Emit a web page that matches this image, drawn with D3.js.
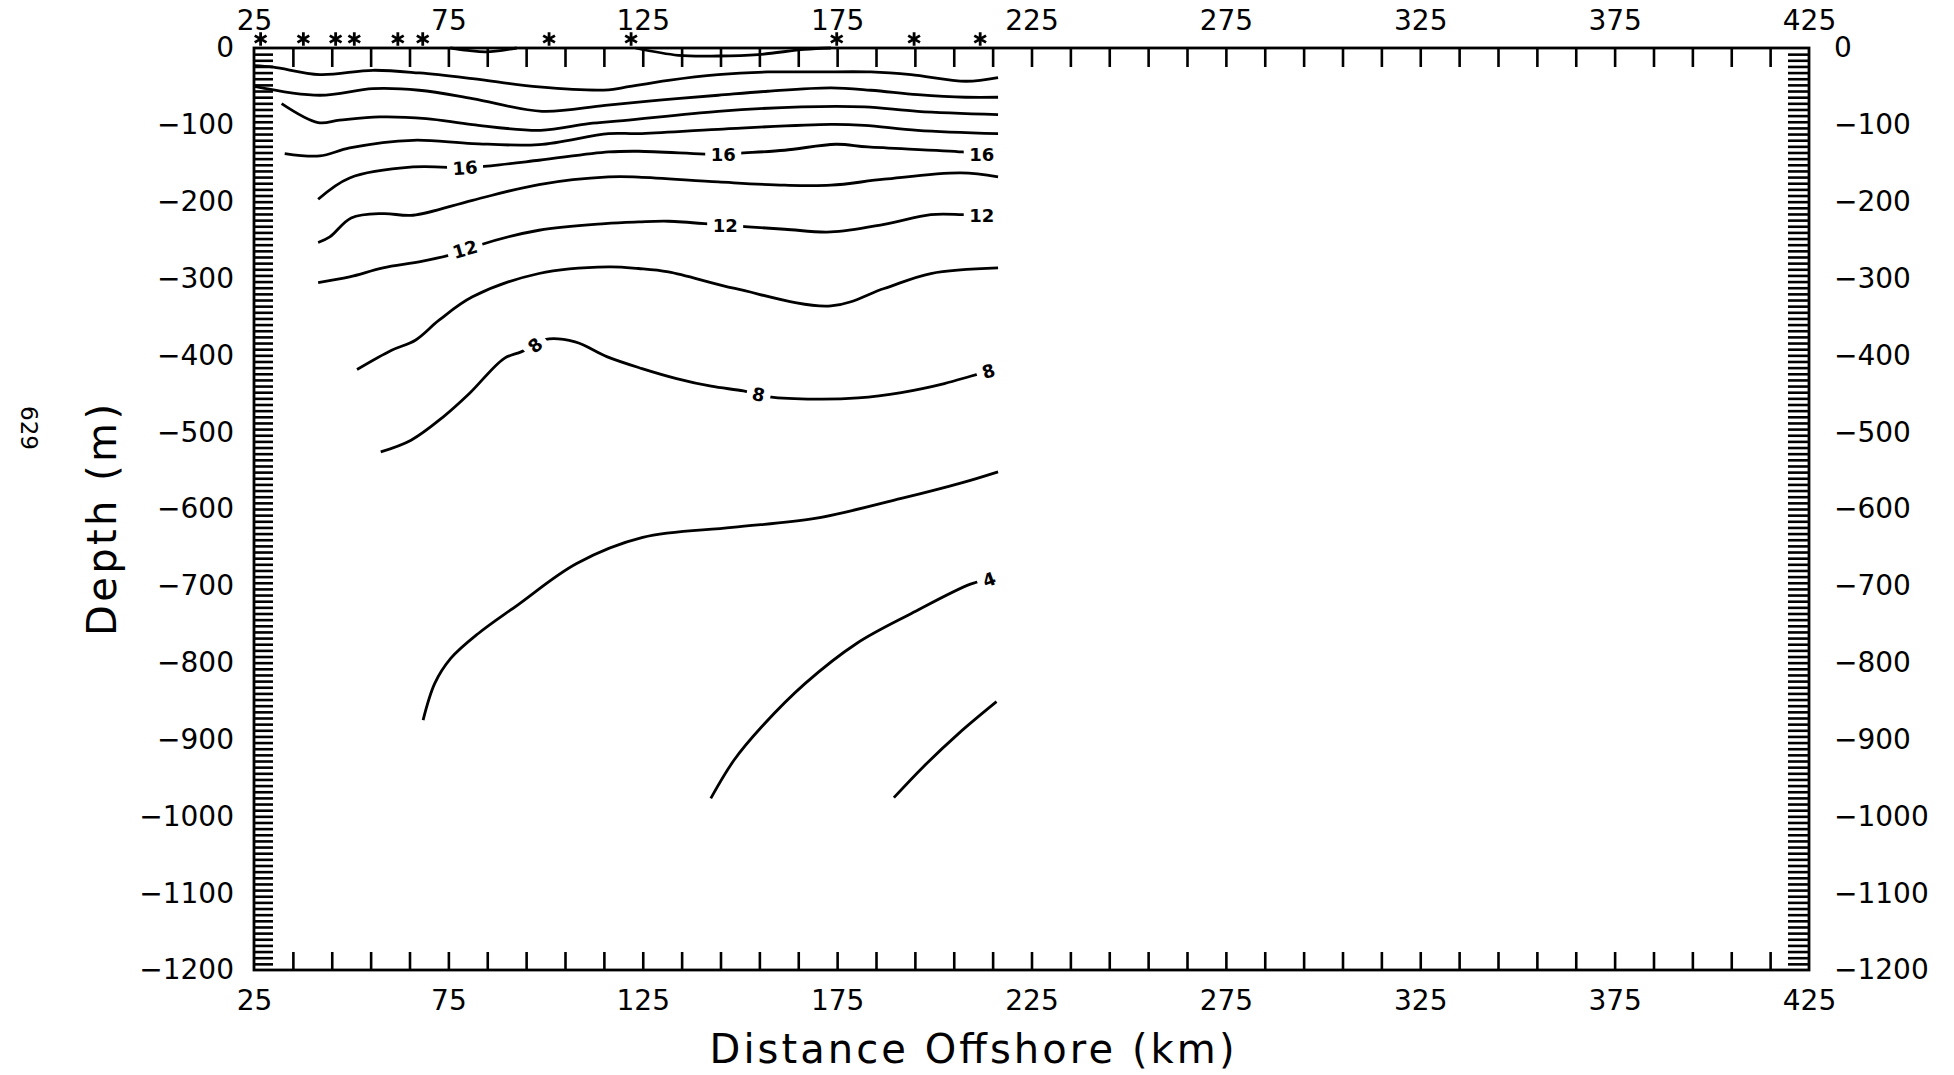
<!DOCTYPE html>
<html>
<head>
<meta charset="utf-8">
<script src="https://cdn.jsdelivr.net/npm/d3@7"></script>
<style>
  body { margin: 0; background: #fff; }
  svg { display: block; }
  text { font-family: "DejaVu Sans", sans-serif; fill: #000; }
</style>
</head>
<body>
<div id="chart"></div>
<script>
// --- data (distance km, depth m) ---
const xLabels = [25, 75, 125, 175, 225, 275, 325, 375, 425];
const depthLabels = [0, -100, -200, -300, -400, -500, -600, -700, -800, -900, -1000, -1100, -1200];
const stations = [26.7, 37.7, 46.0, 50.8, 62.0, 68.4, 100.9, 122.0, 174.9, 194.8, 211.8];

const surf1 = [[75.5, 0], [80, 3], [84.7, 5], [92.6, 0]];
const surf2 = [[123.1, 0], [134.2, 9.5], [144.4, 10.4], [154.7, 8.6], [166.6, 1.7], [173.4, 0]];
const iso1 = [[25, 23], [30, 25], [41.9, 34.7], [55.6, 29], [67.5, 32.5], [81.2, 39.9], [98.3, 50.7], [116.2, 54.5], [120, 51.5], [131.6, 42], [144.4, 34.6], [157.2, 31.2], [170, 31.2], [183.7, 31.2], [194, 34.7], [208.1, 43.3], [216.4, 38.5]];
const iso2 = [[25, 49.8], [41.9, 61.5], [55.6, 52.9], [67.5, 55], [81.2, 65.9], [99.1, 82.4], [115.3, 74.6], [130, 67.5], [144.4, 61.5], [157.2, 56.3], [173.4, 52], [183.7, 55], [195.7, 60.7], [208.1, 64.1], [216.4, 64.1]];
const iso3 = [[32.1, 72.4], [41.5, 97.1], [47, 94], [57.3, 89.7], [69.3, 91.9], [81.2, 99.7], [98.7, 107.1], [111.1, 98.4], [120, 94.5], [144.4, 82.4], [165.8, 76.7], [182, 76.7], [195.7, 82.4], [216.4, 86.7]];
const iso4 = [[32.9, 137.4], [41.9, 140.5], [49.6, 130], [65.9, 120.1], [81.2, 124.4], [98.3, 125.7], [116.2, 111.4], [123.9, 111.4], [144.4, 105.8], [173.4, 99.3], [182, 100.6], [195.7, 107.1], [216.4, 111.4]];
const iso5 = [[41.5, 196.9], [49.6, 169.1], [65.9, 154.8], [79.3, 156], [82.9, 154.8], [98.3, 146.1], [116.2, 135.3], [123.9, 134.4], [145.5, 138.5], [149.6, 137], [161.5, 133.1], [174.7, 125.3], [182.9, 128.8], [207.2, 135.3], [212.2, 138.7]];
const iso6 = [[41.5, 253.2], [44.5, 245.9], [50, 221.2], [58.2, 215.5], [65.9, 217.7], [81.2, 198.2], [98.3, 177.7], [116.2, 167.8], [123.9, 168], [144.4, 174.3], [161.5, 178.6], [173.4, 178.6], [187.1, 170.8], [206.8, 162.6], [216.4, 167.8]];
const iso7 = [[41.5, 305.3], [49.6, 297.9], [58.2, 286.2], [68.4, 277.5], [79.3, 264], [82.9, 256.7], [98.3, 237.2], [115.3, 228.5], [123.9, 226.4], [131.6, 225.5], [146.2, 230.7], [161.5, 235.9], [173.4, 239.4], [187.1, 229.4], [199.1, 216.8], [207.2, 216.8], [212.2, 217.7]];
const iso8 = [[51.5, 418.5], [60.4, 393.4], [66.5, 380.3], [72.6, 354.3], [81.2, 323.9], [98.3, 293.5], [116.2, 284.9], [123.9, 287], [131.6, 291.4], [148.7, 313], [173.4, 335.7], [187.1, 313], [199.1, 293.5], [216.4, 286.2]];
const iso9 = [[57.6, 525.6], [65.4, 510.4], [73.7, 480], [80.4, 449.7], [89.3, 404.2], [93.7, 395.5], [97.3, 386.8], [99.8, 379.5], [107.6, 382.5], [115.9, 402], [124.8, 417.2], [133.7, 430.2], [142.6, 440.2], [150.9, 446.3], [154.8, 451], [157.6, 454], [169.3, 457], [180.4, 455.4], [191.5, 448.4], [202.6, 436.7], [209.3, 427.2], [213.9, 420.7]];
const iso10 = [[68.5, 874.7], [71.5, 827], [75.6, 794.5], [82.7, 762], [92.8, 725], [108, 670.9], [125, 637], [148, 624], [169.3, 612.3], [191.5, 586.3], [207, 566], [216.4, 551.6]];
const iso11 = [[142.5, 976.6], [148.5, 926.7], [155.6, 883.4], [166.8, 827], [180, 775], [194.1, 736], [209.3, 697.8], [214.1, 691.7]];
const iso12 = [[189.6, 975.7], [197.2, 935.4], [206.3, 892], [216, 850.8]];

// contour labels: [km, depth, text, angle]
const isoLabels = [
  [79.3, 156, "16", -4], [145.7, 138.7, "16", 0], [212.2, 138.7, "16", 0],
  [79.3, 262, "12", -16], [146.2, 230.7, "12", 0], [212.2, 217.7, "12", 0],
  [97.3, 386.8, "8", -40], [154.8, 451, "8", 12], [213.9, 420.7, "8", -18],
  [214.1, 691.7, "4", -20]
];

const lines = [surf1, surf2, iso1, iso2, iso3, iso4, iso5, iso6, iso7, iso8, iso9, iso10, iso11, iso12];

const W = 1954, H = 1075;
const plotL = 254, plotR = 1809, plotT = 48, plotB = 970;

const svg = d3.select("#chart").append("svg")
  .attr("width", W)
  .attr("height", H);

const x = d3.scaleLinear().domain([25, 425]).range([plotL, plotR]);
const y = d3.scaleLinear().domain([0, -1200]).range([plotT, plotB]);

// contours
const line = d3.line()
  .x(d => x(d[0]))
  .y(d => y(-d[1]))
  .curve(d3.curveCatmullRom.alpha(0.5));

svg.append("g")
  .selectAll("path")
  .data(lines)
  .join("path")
  .attr("d", line)
  .attr("fill", "none")
  .attr("stroke", "#000")
  .attr("stroke-width", 2.8)
  .attr("stroke-linejoin", "round");

// labels on the contours, with a white patch to break the line
const lab = svg.append("g")
  .selectAll("g")
  .data(isoLabels)
  .join("g")
  .attr("transform", d => `translate(${x(d[0])},${y(-d[1])}) rotate(${d[3]})`);

lab.append("rect")
  .attr("x", d => -d[2].length * 6 - 6)
  .attr("y", -10)
  .attr("width", d => d[2].length * 12 + 12)
  .attr("height", 20)
  .attr("fill", "#fff");

lab.append("text")
  .attr("text-anchor", "middle")
  .attr("dy", "0.36em")
  .attr("font-size", 18)
  .attr("font-weight", "bold")
  .text(d => d[2]);

// minor ticks, all pointing inwards
const tickStyle = g => {
  g.select(".domain").remove();
  g.selectAll(".tick line").attr("stroke", "#000").attr("stroke-width", 2.6);
};

svg.append("g")
  .attr("transform", `translate(0,${plotT})`)
  .call(d3.axisBottom(x).tickValues(d3.range(35, 425, 10)).tickSize(19).tickFormat(""))
  .call(tickStyle);

svg.append("g")
  .attr("transform", `translate(0,${plotB})`)
  .call(d3.axisTop(x).tickValues(d3.range(35, 425, 10)).tickSize(18).tickFormat(""))
  .call(tickStyle);

svg.append("g")
  .attr("transform", `translate(${plotL},0)`)
  .call(d3.axisRight(y).tickValues(d3.range(-8, -1200, -8)).tickSize(19).tickFormat(""))
  .call(tickStyle);

svg.append("g")
  .attr("transform", `translate(${plotR},0)`)
  .call(d3.axisLeft(y).tickValues(d3.range(-8, -1200, -8)).tickSize(21).tickFormat(""))
  .call(tickStyle);

// frame
svg.append("rect")
  .attr("x", plotL)
  .attr("y", plotT)
  .attr("width", plotR - plotL)
  .attr("height", plotB - plotT)
  .attr("fill", "none")
  .attr("stroke", "#000")
  .attr("stroke-width", 2.8);

// tick labels
const fmt = d3.format("d");
const labelStyle = g => {
  g.select(".domain").remove();
  g.selectAll(".tick line").remove();
  g.selectAll("text").attr("font-size", 28).attr("font-family", "DejaVu Sans, sans-serif").attr("fill", "#000");
};

svg.append("g")
  .attr("transform", `translate(0,${plotT})`)
  .call(d3.axisTop(x).tickValues(xLabels).tickFormat(fmt).tickSize(0).tickPadding(18))
  .call(labelStyle);

svg.append("g")
  .attr("transform", `translate(0,${plotB})`)
  .call(d3.axisBottom(x).tickValues(xLabels).tickFormat(fmt).tickSize(0).tickPadding(20))
  .call(labelStyle);

svg.append("g")
  .attr("transform", `translate(${plotL},0)`)
  .call(d3.axisLeft(y).tickValues(depthLabels).tickFormat(fmt).tickSize(0).tickPadding(20))
  .call(labelStyle);

svg.append("g")
  .attr("transform", `translate(${plotR},0)`)
  .call(d3.axisRight(y).tickValues(depthLabels).tickFormat(fmt).tickSize(0).tickPadding(25))
  .call(labelStyle);

// station markers above the top axis
svg.append("g")
  .selectAll("path")
  .data(stations)
  .join("path")
  .attr("transform", d => `translate(${x(d)},${plotT - 9})`)
  .attr("d", d3.symbol(d3.symbolAsterisk, 130))
  .attr("fill", "none")
  .attr("stroke", "#000")
  .attr("stroke-width", 2.8);

// axis titles
svg.append("text")
  .attr("x", 972)
  .attr("y", 1063)
  .attr("text-anchor", "middle")
  .attr("font-size", 40)
  .attr("textLength", 525)
  .attr("lengthAdjust", "spacing")
  .text("Distance Offshore (km)");

svg.append("text")
  .attr("transform", "translate(116,520) rotate(-90)")
  .attr("text-anchor", "middle")
  .attr("font-size", 40)
  .attr("textLength", 232)
  .attr("lengthAdjust", "spacing")
  .text("Depth (m)");

svg.append("text")
  .attr("transform", "translate(21,428) rotate(90)")
  .attr("text-anchor", "middle")
  .attr("font-size", 23)
  .text("629");
</script>
</body>
</html>
